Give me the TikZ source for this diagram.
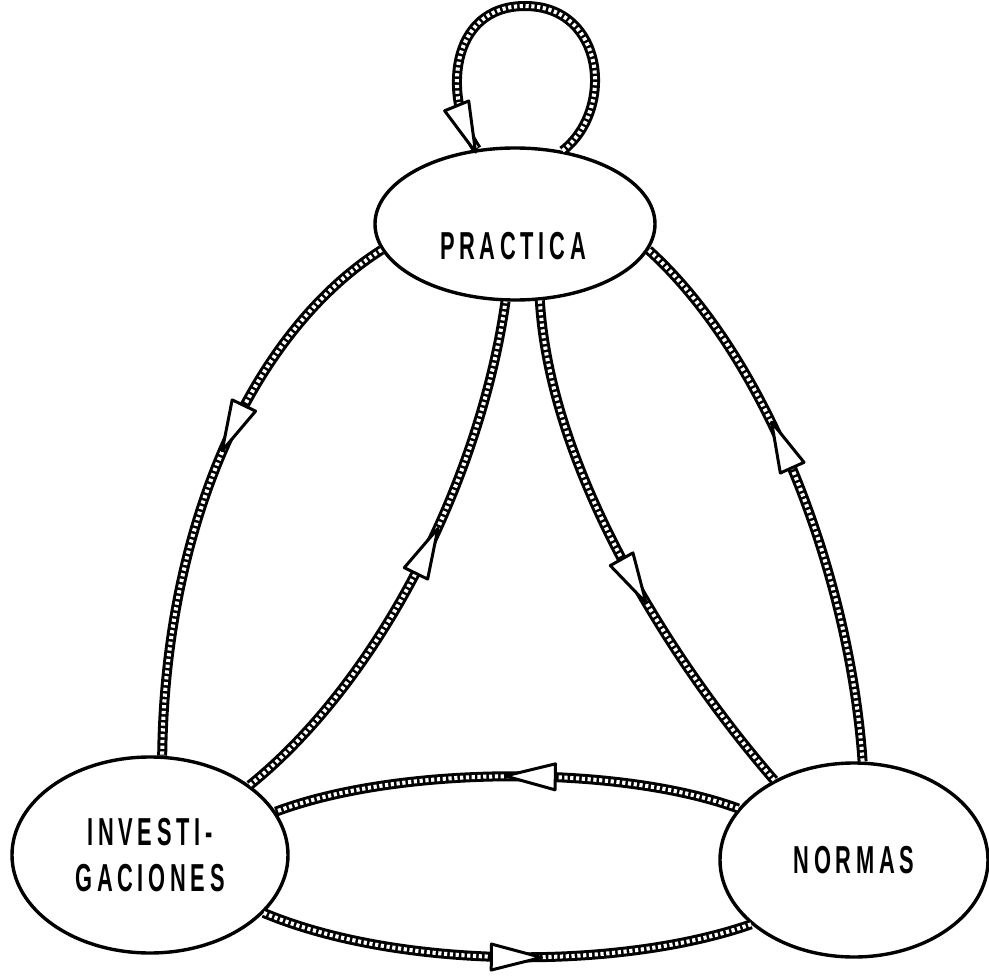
\documentclass[tikz,border=0pt]{standalone}
\usepackage{fontspec}
\setmainfont{Liberation Sans}[FakeStretch=0.56, LetterSpace=12]
\usetikzlibrary{shapes.geometric, decorations.markings}
\begin{document}
\begin{tikzpicture}[x=1pt,y=-1pt,
  state/.style={ellipse, draw, line width=3.4pt, fill=white, inner sep=0pt,
    font=\fontsize{39}{46}\selectfont\bfseries, align=center},
  rail/.style={draw=black, line width=10pt,
    postaction={draw=white, line width=4pt, dash pattern=on 3.2pt off 2.6pt}},
  arrowat/.style={postaction={decorate, decoration={markings,
    mark=at position #1 with {\draw[line width=3pt, fill=white, line join=round]
      (-25pt,-13pt) -- (25pt,0pt) -- (-25pt,13pt) -- cycle;}}}}
]
\useasboundingbox (0,0) rectangle (989,977);
\fill[white] (0,0) rectangle (989,977);

\node[state, minimum width=280pt, minimum height=152pt] (P) at (515,224) {};
\node[font=\fontsize{39}{46}\selectfont\bfseries] (Pt) at (513,246) {PRACTICA};
\node[state, minimum width=276pt, minimum height=196pt] (I) at (150,855) {INVESTI-\\GACIONES};
\node[state, minimum width=268pt, minimum height=194pt] (N) at (854,860) {NORMAS};

% loop on PRACTICA
\path[rail, arrowat=0.94] (P.57) .. controls (615,110) and (605,6) .. (525,6)
  .. controls (448,6) and (443,100) .. (P.117);
% PRACTICA -> INVESTIGACIONES (outer left)
\path[rail, arrowat=0.41] (P.191) .. controls (255,330) and (165,520) .. (I.83);
% INVESTIGACIONES -> PRACTICA (inner left)
\path[rail, arrowat=0.53] (I.35) .. controls (380,680) and (480,480) .. (P.263);
% PRACTICA -> NORMAS (inner right)
\path[rail, arrowat=0.55] (P.288) .. controls (550,470) and (670,660) .. (N.135);
% NORMAS -> PRACTICA (outer right)
\path[rail, arrowat=0.58] (N.85) .. controls (850,580) and (770,360) .. (P.349);
% NORMAS -> INVESTIGACIONES (upper middle)
\path[rail, arrowat=0.45] (N.156) .. controls (620,765) and (400,765) .. (I.19);
% INVESTIGACIONES -> NORMAS (bottom)
\path[rail, arrowat=0.52] (I.333) .. controls (400,970) and (620,970) .. (N.212);
\end{tikzpicture}
\end{document}
